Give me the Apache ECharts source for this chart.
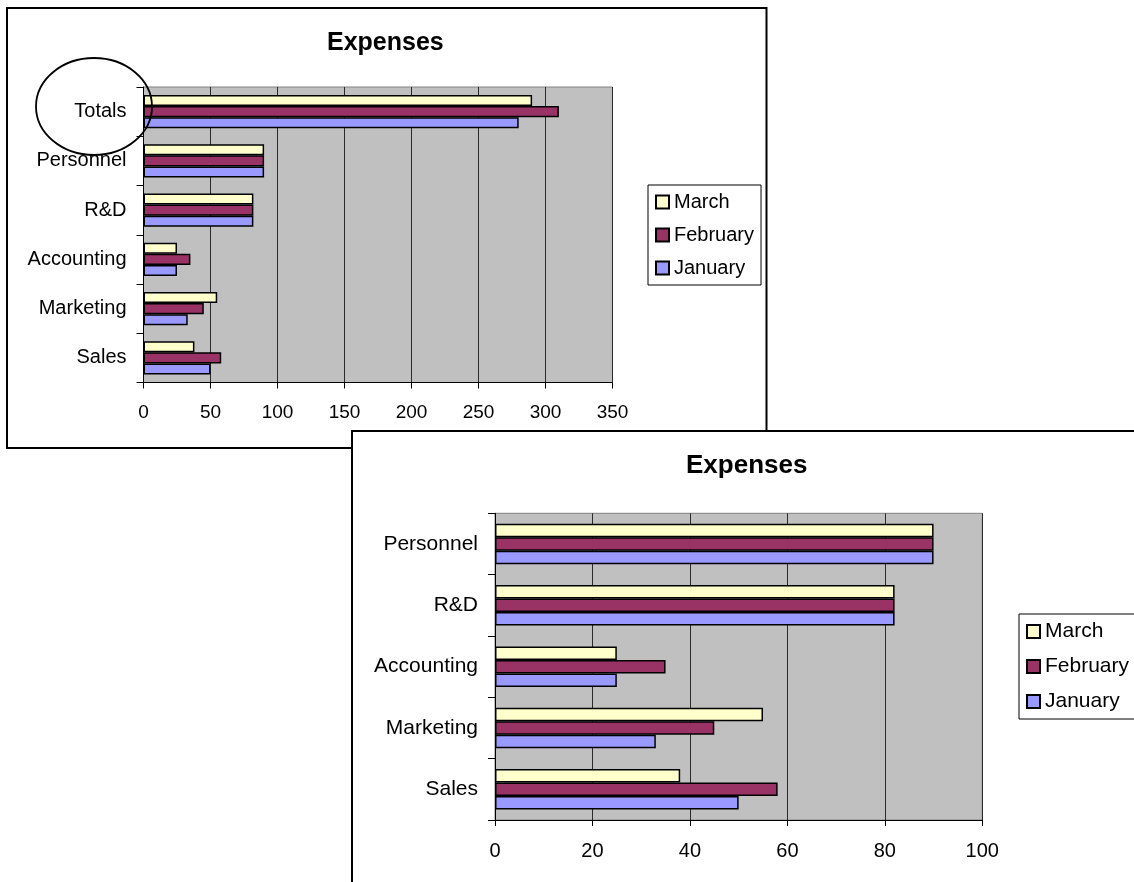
<!DOCTYPE html>
<html>
<head>
<meta charset="utf-8">
<title>Expenses</title>
<script src="https://cdn.jsdelivr.net/npm/echarts@6/dist/echarts.min.js"></script>
<style>
  html, body { margin: 0; padding: 0; background: #fff; }
  #chart { width: 1134px; height: 882px; }
</style>
</head>
<body>
<div id="chart"></div>
<script>
// categories, bottom to top as the axis draws them
var departments = ['Sales', 'Marketing', 'Accounting', 'R&D', 'Personnel'];
var departmentsWithTotal = departments.concat(['Totals']);
var months = ['March', 'February', 'January'];

// values per month, same order as departments
var january = [50, 33, 25, 82, 90];
var february = [58, 45, 35, 82, 90];
var march = [38, 55, 25, 82, 90];
// totals row of the first chart (January, February, March)
var totals = [280, 310, 290];

var xTicks1 = { min: 0, max: 350, interval: 50 };
var xTicks2 = { min: 0, max: 100, interval: 20 };

var colors = { March: '#FFFFCC', February: '#993366', January: '#9999FF' };
var font = 'Liberation Sans, Arial, sans-serif';

var myChart = echarts.init(document.getElementById('chart'));

function makeXAxis(gridIndex, ticks, size) {
  return {
    type: 'value',
    gridIndex: gridIndex,
    min: ticks.min,
    max: ticks.max,
    interval: ticks.interval,
    axisLine: { show: true, lineStyle: { color: '#000', width: 1 } },
    axisTick: { show: true, length: 6, lineStyle: { color: '#000' } },
    axisLabel: { color: '#000', fontSize: size, fontFamily: font, margin: 21 },
    splitLine: { show: true, lineStyle: { color: '#2a2a2a', width: 1 } }
  };
}

function makeYAxis(gridIndex, data, size) {
  return {
    type: 'category',
    gridIndex: gridIndex,
    data: data,
    axisLine: { show: true, lineStyle: { color: '#000', width: 1 } },
    axisTick: { show: true, length: 7, lineStyle: { color: '#000' } },
    axisLabel: { color: '#000', fontSize: size, fontFamily: font, margin: 17 },
    splitLine: { show: false }
  };
}

function makeSeries(name, values, idx, gap) {
  return {
    name: name,
    type: 'bar',
    xAxisIndex: idx,
    yAxisIndex: idx,
    data: values,
    barGap: '0%',
    barCategoryGap: gap,
    itemStyle: { color: colors[name], borderColor: '#000', borderWidth: 1.5 }
  };
}

function makeLegend(left, top, size, gap) {
  return {
    data: months,
    orient: 'vertical',
    left: left,
    top: top,
    icon: 'rect',
    itemWidth: 13,
    itemHeight: 13,
    itemGap: gap,
    padding: [7, 7, 7, 7],
    backgroundColor: '#fff',
    borderColor: '#000',
    borderWidth: 1,
    borderRadius: 0,
    textStyle: { color: '#000', fontSize: size, fontFamily: font, lineHeight: size },
    selectedMode: false
  };
}

var option = {
  animation: false,
  title: [
    {
      text: 'Expenses', left: 327, top: 31, padding: 0,
      textStyle: { fontSize: 25, fontWeight: 'bold', color: '#000', fontFamily: font }
    },
    {
      text: 'Expenses', left: 686, top: 453, padding: 0,
      textStyle: { fontSize: 26, fontWeight: 'bold', color: '#000', fontFamily: font }
    }
  ],
  legend: [
    makeLegend(648, 185, 20, 13),
    makeLegend(1019, 614, 21, 14)
  ],
  grid: [
    { left: 143.5, top: 87, width: 469, height: 295.5, show: true,
      backgroundColor: '#C0C0C0', borderColor: '#808080', borderWidth: 1, containLabel: false },
    { left: 495, top: 513.3, width: 487.3, height: 306.7, show: true,
      backgroundColor: '#C0C0C0', borderColor: '#808080', borderWidth: 1, containLabel: false }
  ],
  xAxis: [
    makeXAxis(0, xTicks1, 19),
    makeXAxis(1, xTicks2, 20)
  ],
  yAxis: [
    makeYAxis(0, departmentsWithTotal, 20),
    makeYAxis(1, departments, 21)
  ],
  series: [
    makeSeries('March', march.concat([totals[2]]), 0, '32%'),
    makeSeries('February', february.concat([totals[1]]), 0, '32%'),
    makeSeries('January', january.concat([totals[0]]), 0, '32%'),
    makeSeries('March', march, 1, '34%'),
    makeSeries('February', february, 1, '34%'),
    makeSeries('January', january, 1, '34%')
  ],
  graphic: [
    // frame of the first chart
    { type: 'rect', z: -10, shape: { x: 7, y: 8, width: 759.5, height: 440 },
      style: { fill: '#fff', stroke: '#000', lineWidth: 2 } },
    // frame of the second chart, lying over the first one
    { type: 'rect', z: -5, shape: { x: 352, y: 431, width: 820, height: 500 },
      style: { fill: '#fff', stroke: '#000', lineWidth: 2 } },
    // hand-drawn circle round "Totals"
    { type: 'ellipse', z: 100, shape: { cx: 94, cy: 106.5, rx: 58, ry: 48.5 },
      style: { fill: null, stroke: '#000', lineWidth: 1.8 } }
  ]
};

myChart.setOption(option);
</script>
</body>
</html>
